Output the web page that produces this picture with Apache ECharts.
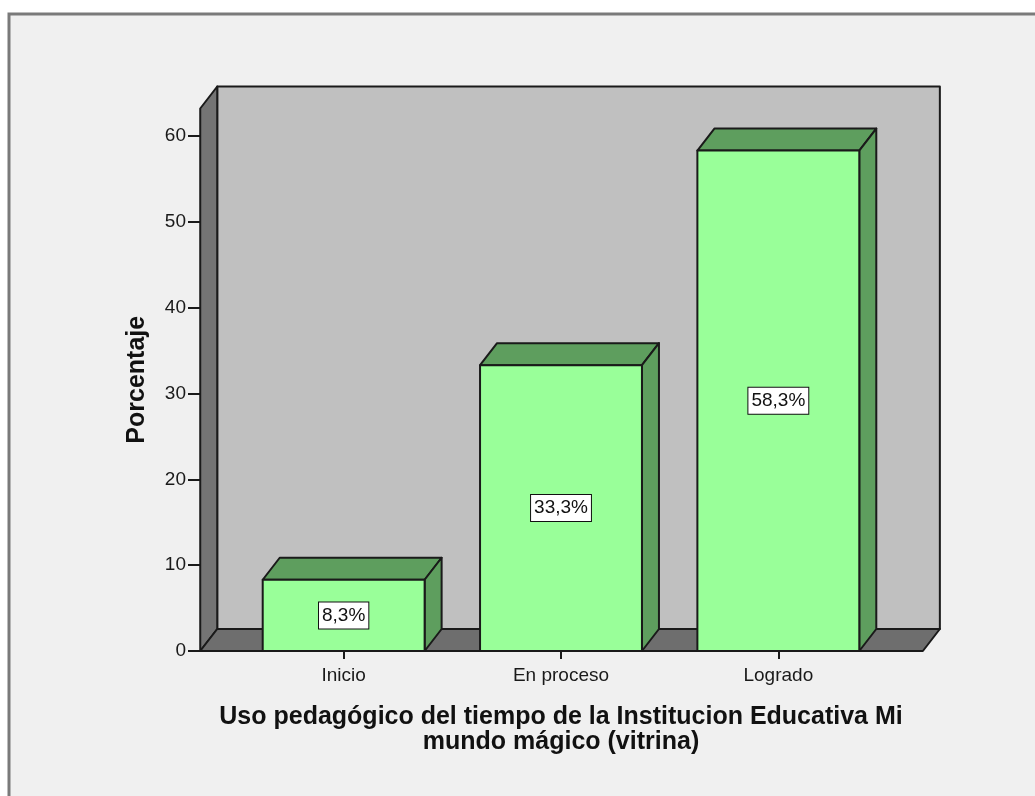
<!DOCTYPE html>
<html>
<head>
<meta charset="utf-8">
<script src="https://cdn.jsdelivr.net/npm/echarts@6/dist/echarts.min.js"></script>
<style>
html, body { margin: 0; padding: 0; background: #ffffff; }
#main { width: 1035px; height: 796px; }
</style>
</head>
<body>
<div id="main"></div>
<script>
var categories = ['Inicio', 'En proceso', 'Logrado'];
var percents = [8.3, 33.3, 58.3];
var yTicks = [0, 10, 20, 30, 40, 50, 60];
var yMax = 63.2; // top of the front wall edge

var depthX = 17, depthY = -22; // 3d offset in px
var fontFam = "'Liberation Sans', Arial, sans-serif";
var lineCol = '#1a1a1a';

var chart = echarts.init(document.getElementById('main'));

function fmt(v) {
    return v.toFixed(1).replace('.', ',') + '%';
}

// back wall, left wall and floor
function renderWalls(params, api) {
    var cs = params.coordSys;
    var band = cs.width / categories.length;
    var left = cs.x - band * 0.16;
    var right = cs.x + cs.width + band * 0.165;
    var top = cs.y, base = cs.y + cs.height;
    var st = { stroke: lineCol, lineWidth: 2, lineJoin: 'round' };
    return {
        type: 'group',
        children: [
            { type: 'polygon', shape: { points: [[left + depthX, top + depthY], [right + depthX, top + depthY], [right + depthX, base + depthY], [left + depthX, base + depthY]] },
              style: Object.assign({ fill: '#c0c0c0' }, st) },
            { type: 'polygon', shape: { points: [[left, top], [left + depthX, top + depthY], [left + depthX, base + depthY], [left, base]] },
              style: Object.assign({ fill: '#747474' }, st) },
            { type: 'polygon', shape: { points: [[left, base], [left + depthX, base + depthY], [right + depthX, base + depthY], [right, base]] },
              style: Object.assign({ fill: '#6e6e6e' }, st) }
        ]
    };
}

function renderBar(params, api) {
    var b = api.coord([api.value(0), 0]);
    var t = api.coord([api.value(0), api.value(1)]);
    var w = api.size([1, 0])[0] * 0.745;
    var x0 = b[0] - w / 2, x1 = b[0] + w / 2, yb = b[1], yt = t[1];
    var st = { stroke: lineCol, lineWidth: 2, lineJoin: 'round' };
    return {
        type: 'group',
        children: [
            { type: 'polygon', shape: { points: [[x0, yt], [x0 + depthX, yt + depthY], [x1 + depthX, yt + depthY], [x1, yt]] },
              style: Object.assign({ fill: '#5e9e5e' }, st) },
            { type: 'polygon', shape: { points: [[x1, yt], [x1 + depthX, yt + depthY], [x1 + depthX, yb + depthY], [x1, yb]] },
              style: Object.assign({ fill: '#5e9e5e' }, st) },
            { type: 'rect', shape: { x: x0, y: yt, width: w, height: yb - yt },
              style: Object.assign({ fill: '#99ff99' }, st) },
            { type: 'text', x: b[0], y: (yt + yb) / 2,
              style: { text: fmt(api.value(1)), align: 'center', verticalAlign: 'middle',
                       font: '19px ' + fontFam, fill: '#111',
                       backgroundColor: '#ffffff', borderColor: '#111', borderWidth: 1, padding: [4, 3, 3, 3] } }
        ]
    };
}

var option = {
    backgroundColor: 'transparent',
    animation: false,
    graphic: [
        { type: 'rect', z: -10, shape: { x: 9, y: 14, width: 1100, height: 900 },
          style: { fill: '#f0f0f0', stroke: '#7a7a7a', lineWidth: 3 } }
    ],
    grid: { left: 235, right: 148, top: 108.5, bottom: 145 },
    xAxis: {
        type: 'category',
        data: categories,
        axisLine: { show: false },
        axisTick: { show: true, alignWithLabel: true, length: 8, lineStyle: { color: lineCol, width: 2 } },
        axisLabel: { color: '#1a1a1a', fontSize: 19, fontFamily: fontFam, margin: 15 },
        name: 'Uso pedagógico del tiempo de la Institucion Educativa Mi\nmundo mágico (vitrina)',
        nameLocation: 'middle',
        nameGap: 54,
        nameTextStyle: { color: '#111', fontSize: 25, fontWeight: 'bold', fontFamily: fontFam, lineHeight: 25 }
    },
    yAxis: {
        type: 'value',
        min: 0,
        max: yMax,
        offset: 35,
        splitLine: { show: false },
        axisLine: { show: false },
        axisTick: { show: true, length: 12, customValues: yTicks, lineStyle: { color: lineCol, width: 2 } },
        axisLabel: { color: '#1a1a1a', fontSize: 19, fontFamily: fontFam, margin: 14, customValues: yTicks },
        name: 'Porcentaje',
        nameLocation: 'middle',
        nameGap: 50,
        nameTextStyle: { color: '#111', fontSize: 25, fontWeight: 'bold', fontFamily: fontFam }
    },
    series: [
        { type: 'custom', z: 1, renderItem: renderWalls, data: [[0, 0]], silent: true },
        { type: 'custom', z: 2, renderItem: renderBar,
          data: percents.map(function (v, i) { return [i, v]; }) }
    ]
};
chart.setOption(option);
</script>
</body>
</html>
